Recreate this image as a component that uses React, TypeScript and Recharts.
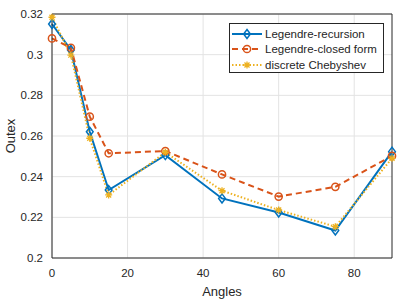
import { CartesianGrid, Line, LineChart, ReferenceLine, XAxis, YAxis } from "recharts";

const angles = [0, 5, 10, 15, 30, 45, 60, 75, 90];
const recursion = [0.3151, 0.3023, 0.2621, 0.2334, 0.2506, 0.2293, 0.2224, 0.2135, 0.2523];
const closedForm = [0.308, 0.3034, 0.2695, 0.2515, 0.2526, 0.2411, 0.2302, 0.235, 0.2502];
const chebyshev = [0.3184, 0.2998, 0.2589, 0.231, 0.252, 0.2331, 0.2236, 0.2154, 0.249];
const xTicks = [0, 20, 40, 60, 80];
const yTicks = [0.2, 0.22, 0.24, 0.26, 0.28, 0.3, 0.32];

const BLUE = "#0072BD";
const ORANGE = "#D95319";
const YELLOW = "#EDB120";
const AXIS = "#262626";
const FONT = "'Liberation Sans', Arial, Helvetica, sans-serif";

const data = angles.map((a, i) => ({
  angle: a,
  recursion: recursion[i],
  closed: closedForm[i],
  cheb: chebyshev[i],
}));

const series = [
  { key: "recursion", name: "Legendre-recursion", color: BLUE, dash: undefined, marker: "diamond" },
  { key: "closed", name: "Legendre-closed form", color: ORANGE, dash: "6 4", marker: "circle" },
  { key: "cheb", name: "discrete Chebyshev", color: YELLOW, dash: "1.5 2", marker: "star" },
];

function Marker({ kind, cx, cy, color }: { kind: string; cx: number; cy: number; color: string }) {
  if (kind === "diamond") {
    const s = 4.5;
    return (
      <path
        d={`M${cx},${cy - s}L${cx + s * 0.75},${cy}L${cx},${cy + s}L${cx - s * 0.75},${cy}Z`}
        fill="none"
        stroke={color}
        strokeWidth={1.5}
      />
    );
  }
  if (kind === "circle") {
    return <circle cx={cx} cy={cy} r={3.6} fill="none" stroke={color} strokeWidth={1.5} />;
  }
  const s = 3.5;
  const d = s * 0.72;
  return (
    <path
      d={`M${cx - s},${cy}H${cx + s}M${cx},${cy - s}V${cy + s}M${cx - d},${cy - d}L${cx + d},${cy + d}M${cx - d},${cy + d}L${cx + d},${cy - d}`}
      stroke={color}
      strokeWidth={1.3}
      fill="none"
    />
  );
}

function makeDot(kind: string, color: string) {
  return (props: any) => {
    const { cx, cy, index } = props;
    if (cx == null || cy == null) return <g key={index} />;
    return <Marker key={index} kind={kind} cx={cx} cy={cy} color={color} />;
  };
}

function LegendBox() {
  return (
    <div
      style={{
        position: "absolute",
        left: 229,
        top: 23,
        width: 153,
        height: 48,
        border: "1px solid #262626",
        background: "#fff",
        fontFamily: FONT,
        fontSize: 11.5,
        color: AXIS,
      }}
    >
      {series.map((s, i) => (
        <div key={s.key} style={{ display: "flex", alignItems: "center", height: 15.5, marginTop: i === 0 ? 2 : 0 }}>
          <svg width={34} height={12} style={{ flex: "none" }}>
            <line x1={2} y1={6} x2={32} y2={6} stroke={s.color} strokeWidth={2} strokeDasharray={s.dash} />
            <Marker kind={s.marker} cx={17} cy={6} color={s.color} />
          </svg>
          <span style={{ whiteSpace: "nowrap", marginLeft: 1 }}>{s.name}</span>
        </div>
      ))}
    </div>
  );
}

export default function App() {
  return (
    <div style={{ position: "absolute", left: 0, top: 0, width: 399, height: 299, background: "#fff" }}>
      <LineChart width={399} height={299} data={data} margin={{ top: 14, right: 7, left: 12, bottom: 0 }}>
        <CartesianGrid stroke="#e3e3e3" strokeWidth={1} horizontalValues={yTicks} verticalValues={xTicks} />
        <XAxis
          dataKey="angle"
          type="number"
          domain={[0, 90]}
          ticks={xTicks}
          height={41}
          tickLine={false}
          tickMargin={5}
          axisLine={{ stroke: AXIS }}
          tick={{ fill: AXIS, fontSize: 11.5, fontFamily: FONT }}
          label={{ value: "Angles", position: "insideBottom", offset: 3, fill: AXIS, fontSize: 13, fontFamily: FONT }}
        />
        <YAxis
          type="number"
          domain={[0.2, 0.32]}
          ticks={yTicks}
          width={40}
          tickLine={false}
          tickMargin={3}
          axisLine={{ stroke: AXIS }}
          tick={{ fill: AXIS, fontSize: 11.5, fontFamily: FONT }}
          tickFormatter={(v: number) => String(+v.toFixed(2))}
          label={{ value: "Outex", angle: -90, position: "insideLeft", offset: -2, fill: AXIS, fontSize: 13, fontFamily: FONT, style: { textAnchor: "middle" } }}
        />
        <ReferenceLine y={0.32} stroke={AXIS} />
        <ReferenceLine x={90} stroke={AXIS} />
        {series.map((s) => (
          <Line
            key={s.key}
            dataKey={s.key}
            name={s.name}
            stroke={s.color}
            strokeWidth={2}
            strokeDasharray={s.dash}
            dot={makeDot(s.marker, s.color)}
            activeDot={false}
            isAnimationActive={false}
          />
        ))}
      </LineChart>
      <LegendBox />
    </div>
  );
}
